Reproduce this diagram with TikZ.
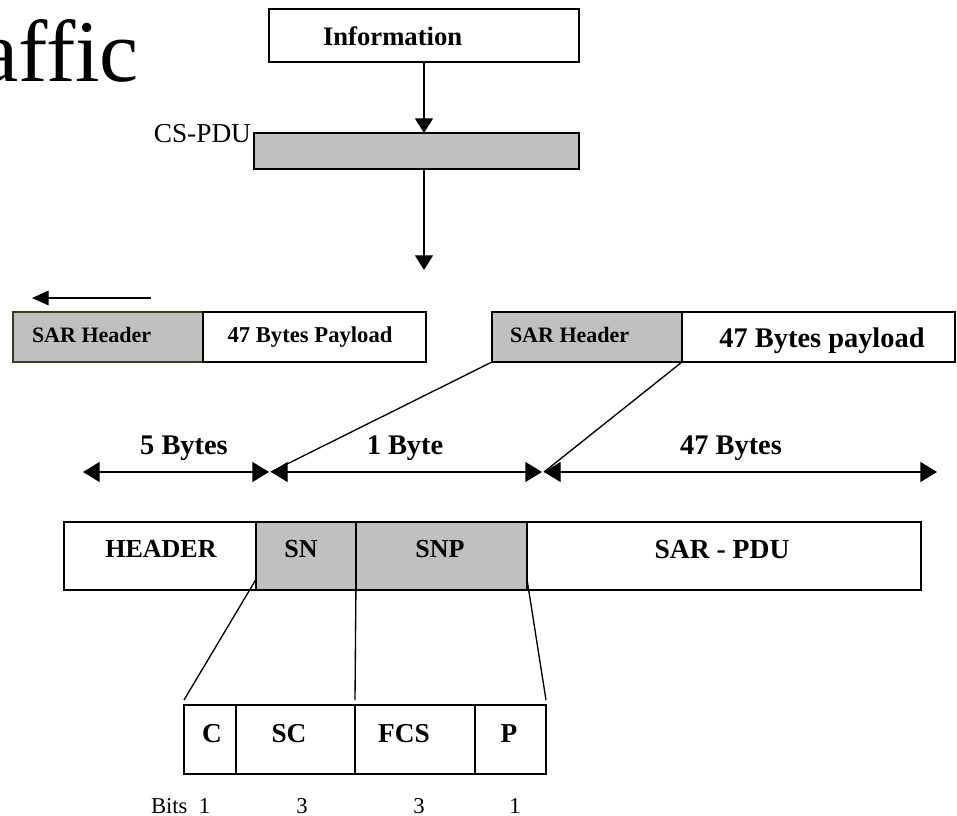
\documentclass[tikz,border=0pt]{standalone}
\usepackage{fontspec}
\setmainfont{Liberation Serif}
\usetikzlibrary{arrows.meta}
\definecolor{cellgray}{HTML}{C0C0C0}
\definecolor{olivedark}{RGB}{60,60,24}
\newcommand{\fsz}[1]{\fontsize{#1}{1.2\dimexpr#1\relax}\selectfont}
\tikzset{
  cell/.style={draw=black, line width=1.3pt, outer sep=0pt, inner sep=0pt, anchor=north west},
  shade/.style={fill=cellgray},
  lbl/.style={inner sep=0pt, outer sep=0pt, anchor=base},
  bl/.style={lbl, font=\bfseries\fsz{#1}},
  rg/.style={lbl, font=\fsz{#1}},
  conn/.style={line width=1pt},
  downarrow/.style={conn, -{Triangle[length=11pt,width=13.5pt]}},
  leftarrow/.style={conn, -{Triangle[length=12.5pt,width=11pt]}},
  span/.style={conn, {Triangle[length=12.5pt,width=15pt]}-{Triangle[length=12.5pt,width=15pt]}},
}
\begin{document}
\begin{tikzpicture}[x=0.75pt, y=-0.75pt]
\useasboundingbox (0,0) rectangle (957,816);

% large title fragment at the left margin
\node[rg=66pt, anchor=base east] (title) at (139,82) {affic};

% information and CS-PDU
\node[cell, minimum width=310*0.75pt, minimum height=53*0.75pt] (info) at (269,9) {};
\node[bl=20pt, anchor=base west] (infotxt) at (323,46) {Information};
\node[cell, shade, minimum width=325*0.75pt, minimum height=36*0.75pt] (cspdu) at (254,133) {};
\node[rg=20.5pt, anchor=base east] (cslbl) at (251,143) {CS-PDU};
\draw[downarrow] (info.south) -- (info.south |- cspdu.north);
\coordinate (down) at (424,270);
\draw[downarrow] (cspdu.south -| info.south) -- (down);

% previous cell, moving left
\coordinate (mvA) at (151,298);
\coordinate (mvB) at (32,298);
\draw[leftarrow] (mvA) -- (mvB);
\node[cell, shade, draw=olivedark, minimum width=190*0.75pt, minimum height=50*0.75pt] (lhdr) at (13,312) {};
\node[cell, minimum width=223*0.75pt, minimum height=50*0.75pt] (lpay) at (203,312) {};
\node[bl=16.5pt, anchor=base west] (lhdrtxt) at (32,343) {SAR Header};
\node[bl=17pt] (lpaytxt) at (310,343) {47 Bytes Payload};

% current cell
\node[cell, shade, minimum width=190*0.75pt, minimum height=50*0.75pt] (rhdr) at (492,312) {};
\node[cell, minimum width=273*0.75pt, minimum height=50*0.75pt] (rpay) at (682,312) {};
\node[bl=16.5pt, anchor=base west] (rhdrtxt) at (510,343) {SAR Header};
\node[bl=21.3pt] (rpaytxt) at (822,348) {47 Bytes payload};

% byte spans
\coordinate (s0) at (83,472);
\coordinate (s1a) at (269,472);
\coordinate (s1b) at (271,472);
\coordinate (s2a) at (542,472);
\coordinate (s2b) at (544,472);
\coordinate (s3) at (937,472);
\draw[span] (s0) -- (s1a);
\draw[span] (s1b) -- (s2a);
\draw[span] (s2b) -- (s3);
\node[bl=21.3pt] (b5) at (184,455) {5 Bytes};
\node[bl=21.3pt] (b1) at (405,455) {1 Byte};
\node[bl=21.3pt] (b47) at (731,455) {47 Bytes};
\draw[conn] (rhdr.south west) -- (s1b);
\draw[conn] (rhdr.south east) -- (s2b);

% SAR-PDU layout
\node[cell, minimum width=192*0.75pt, minimum height=68*0.75pt] (hdr) at (64,522) {};
\node[cell, shade, minimum width=100*0.75pt, minimum height=68*0.75pt] (sn) at (256,522) {};
\node[cell, shade, minimum width=171*0.75pt, minimum height=68*0.75pt] (snp) at (356,522) {};
\node[cell, minimum width=394*0.75pt, minimum height=68*0.75pt] (sarpdu) at (527,522) {};
\node[bl=19.5pt] (hdrtxt) at (161,557) {HEADER};
\node[bl=19.5pt] (sntxt) at (301,557) {SN};
\node[bl=19.5pt] (snptxt) at (440,557) {SNP};
\node[bl=20.7pt] (sarpdutxt) at (722,558) {SAR - PDU};

% SN / SNP bit fields
\node[cell, minimum width=52*0.75pt, minimum height=69*0.75pt] (c) at (184,705) {};
\node[cell, minimum width=119*0.75pt, minimum height=69*0.75pt] (sc) at (236,705) {};
\node[cell, minimum width=120*0.75pt, minimum height=69*0.75pt] (fcs) at (355,705) {};
\node[cell, minimum width=71*0.75pt, minimum height=69*0.75pt] (p) at (475,705) {};
\node[bl=20.5pt] (ctxt) at (212,742) {C};
\node[bl=20.5pt] (sctxt) at (289,742) {SC};
\node[bl=20.5pt] (fcstxt) at (404,742) {FCS};
\node[bl=20.5pt] (ptxt) at (509,742) {P};
\draw[conn] ([yshift=8pt]sn.south west) -- ([yshift=3.75pt]c.north west);
\draw[conn] ([yshift=8pt]sn.south east) -- ([yshift=3.75pt]sc.north east);
\draw[conn] ([yshift=8pt]snp.south east) -- ([yshift=3.75pt]p.north east);

% bit counts
\node[rg=17pt, anchor=base west] (bits) at (151,813) {Bits\ \ 1};
\node[rg=17pt] (n3a) at (302,813) {3};
\node[rg=17pt] (n3b) at (419,813) {3};
\node[rg=17pt] (n1) at (515,813) {1};
\end{tikzpicture}
\end{document}
